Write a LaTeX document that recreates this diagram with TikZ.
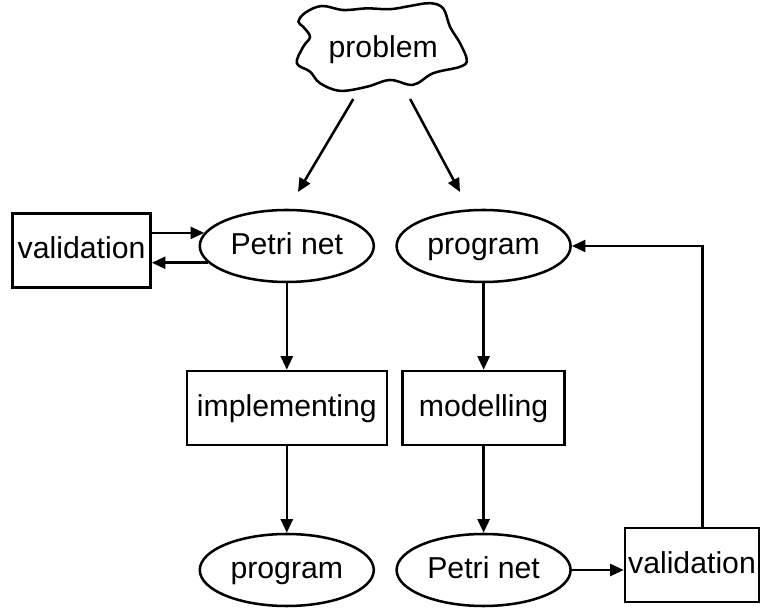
\documentclass[tikz,border=0pt]{standalone}
\usepackage{fontspec}
\setmainfont{Liberation Sans}
\usetikzlibrary{shapes,arrows.meta}

\begin{document}
\begin{tikzpicture}[
		font=\fontsize{21.5}{25}\selectfont,
		line width=1.8pt,
		every node/.style={text height=16pt,text depth=4.3pt},
		oval/.style={draw,ellipse,minimum width=4.35cm,minimum height=1.8cm,inner sep=0pt},
		box/.style={draw,rectangle,minimum height=1.85cm,inner sep=1pt},
		arr/.style={-{Triangle[length=0.34cm,width=0.3cm]}}
	]
		\useasboundingbox (0,0) rectangle (19,15.25);

		% Problem cloud
		\draw plot[smooth cycle,tension=0.6] coordinates {
			(7.46,14.71) (7.63,14.93) (8.04,15.10) (8.58,15.00) (9.17,15.04)
			(9.75,15.02) (10.25,15.10) (10.75,15.17) (11.08,15.04) (11.25,14.58)
			(11.50,14.17) (11.67,13.75) (11.50,13.58) (10.83,13.42) (10.33,13.13)
			(9.75,13.25) (9.17,13.08) (8.50,12.98) (8.00,13.17) (7.75,13.46)
			(7.42,13.67) (7.58,14.08) (7.75,14.33) (7.58,14.58)};
		\node[minimum height=2.45cm] (problem) at (9.58,14.03) {problem};
		\coordinate (p1) at (7.45,10.45);
		\coordinate (p2) at (11.5,10.45);

		% Petri net first
		\node[oval] (petri1) at (7.17,9.1) {Petri net};
		\node[box,minimum width=3.45cm] (valid1) at (2.04,8.99) {validation};
		\node[box,minimum width=5cm] (impl) at (7.17,5.05) {implementing};
		\node[oval] (prog2) at (7.17,1.0) {program};

		% Program first
		\node[oval] (prog1) at (12.09,9.1) {program};
		\node[box,minimum width=4.05cm] (model) at (12.09,5.05) {modelling};
		\node[oval] (petri2) at (12.09,1.0) {Petri net};
		\node[box,minimum width=3.35cm] (valid2) at (17.3,1.125) {validation};

		% Connections
		\draw[arr] (problem) -- (p1);
		\draw[arr] (problem) -- (p2);
		\draw[arr] (valid1.east |- petri1.171) -- (petri1.171);
		\draw[arr] (petri1.192) -- (valid1.east |- petri1.192);
		\draw[arr] (petri1) -- (impl);
		\draw[arr] (impl) -- (prog2);
		\draw[arr] (prog1) -- (model);
		\draw[arr] (model) -- (petri2);
		\draw[arr] (petri2.east) -- (petri2.east -| valid2.west);
		\draw[arr] ([xshift=0.26cm]valid2.north) |- (prog1.east);

	\end{tikzpicture}
\end{document}
